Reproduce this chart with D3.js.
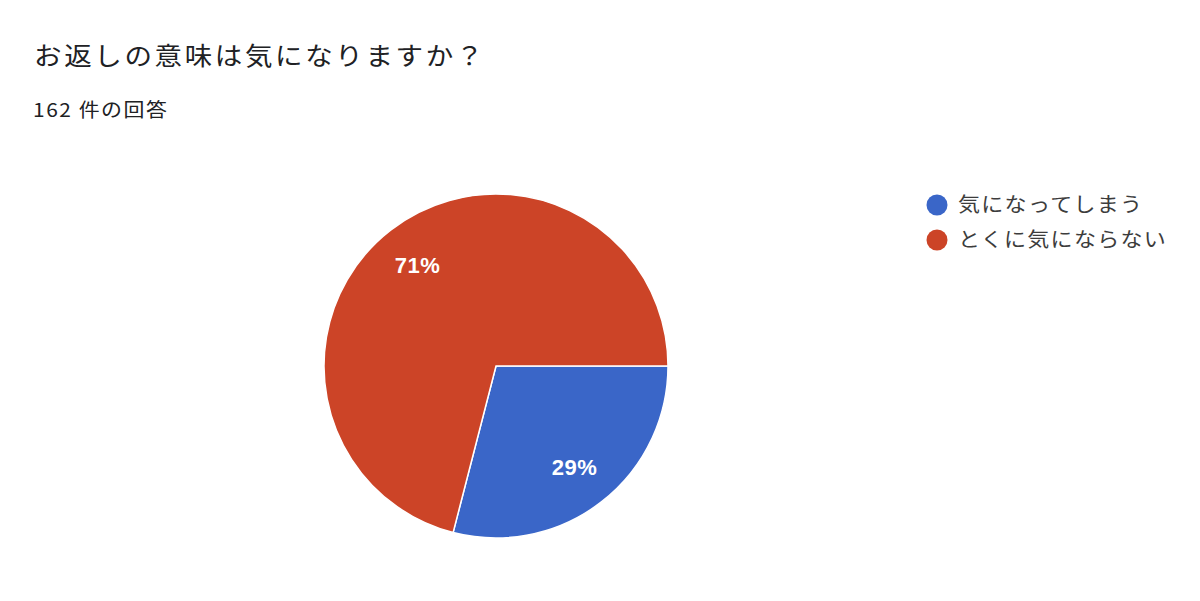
<!DOCTYPE html>
<html lang="ja">
<head>
  <meta charset="UTF-8">
  <title>お返しの意味は気になりますか？</title>
  <script src="https://d3js.org/d3.v7.min.js"></script>
  <style>
    body {
      margin: 0;
      padding: 0;
      background: #fff;
      font-family: "Noto Sans CJK JP", "Noto Sans", sans-serif;
    }
    svg { display: block; }
    .title { font-size: 25px; fill: #202124; letter-spacing: 2.4px; }
    .subtitle { font-size: 19px; fill: #202124; letter-spacing: 1.4px; }
    .legend-text { font-size: 20px; fill: #3c3c3c; letter-spacing: 1.2px; }
    .slice-label {
      font-family: "Liberation Sans", Arial, sans-serif;
      font-size: 22px;
      font-weight: bold;
      fill: #fff;
      letter-spacing: 0.5px;
    }
  </style>
</head>
<body>
  <div id="chart"></div>

  <script>
    // answers (162 responses)
    const categories = ["気になってしまう", "とくに気にならない"];
    const counts = [47, 115];
    const colors = ["#3a66c8", "#cc4427"];

    const width = 1200, height = 601;
    const cx = 496, cy = 366, radius = 172;
    const stretch = 1.1; // the source text looks slightly wide

    const svg = d3.select("#chart")
      .append("svg")
      .attr("width", width)
      .attr("height", height);

    svg.append("text")
      .attr("class", "title")
      .attr("transform", `translate(34, 65) scale(${stretch}, 1)`)
      .text("お返しの意味は気になりますか？");

    svg.append("text")
      .attr("class", "subtitle")
      .attr("transform", `translate(33, 117) scale(${stretch}, 1)`)
      .text("162 件の回答");

    const total = d3.sum(counts);
    const data = categories.map((c, i) => ({ category: c, value: counts[i] }));

    const color = d3.scaleOrdinal()
      .domain(categories)
      .range(colors);

    // slices start at 3 o'clock and go clockwise
    const pie = d3.pie()
      .value(d => d.value)
      .sort(null)
      .startAngle(Math.PI / 2)
      .endAngle(Math.PI / 2 + 2 * Math.PI);

    const arc = d3.arc().innerRadius(0).outerRadius(radius);
    const labelArc = d3.arc().innerRadius(radius * 0.745).outerRadius(radius * 0.745);

    const g = svg.append("g").attr("transform", `translate(${cx}, ${cy})`);

    const arcs = pie(data);

    g.selectAll("path")
      .data(arcs)
      .enter()
      .append("path")
      .attr("d", arc)
      .attr("fill", d => color(d.data.category))
      .attr("stroke", "#fff")
      .attr("stroke-width", 1.5);

    g.selectAll(".slice-label")
      .data(arcs)
      .enter()
      .append("text")
      .attr("class", "slice-label")
      .attr("transform", d => `translate(${labelArc.centroid(d)})`)
      .attr("text-anchor", "middle")
      .attr("dy", "0.36em")
      .text(d => Math.round(d.data.value / total * 100) + "%");

    const legend = svg.append("g").attr("transform", "translate(937, 205)");

    const item = legend.selectAll("g")
      .data(data)
      .enter()
      .append("g")
      .attr("transform", (d, i) => `translate(0, ${i * 35})`);

    item.append("circle")
      .attr("r", 10.5)
      .attr("fill", d => color(d.category));

    item.append("text")
      .attr("class", "legend-text")
      .attr("transform", `translate(21, 0) scale(${stretch}, 1)`)
      .attr("dy", "0.36em")
      .text(d => d.category);
  </script>
</body>
</html>
